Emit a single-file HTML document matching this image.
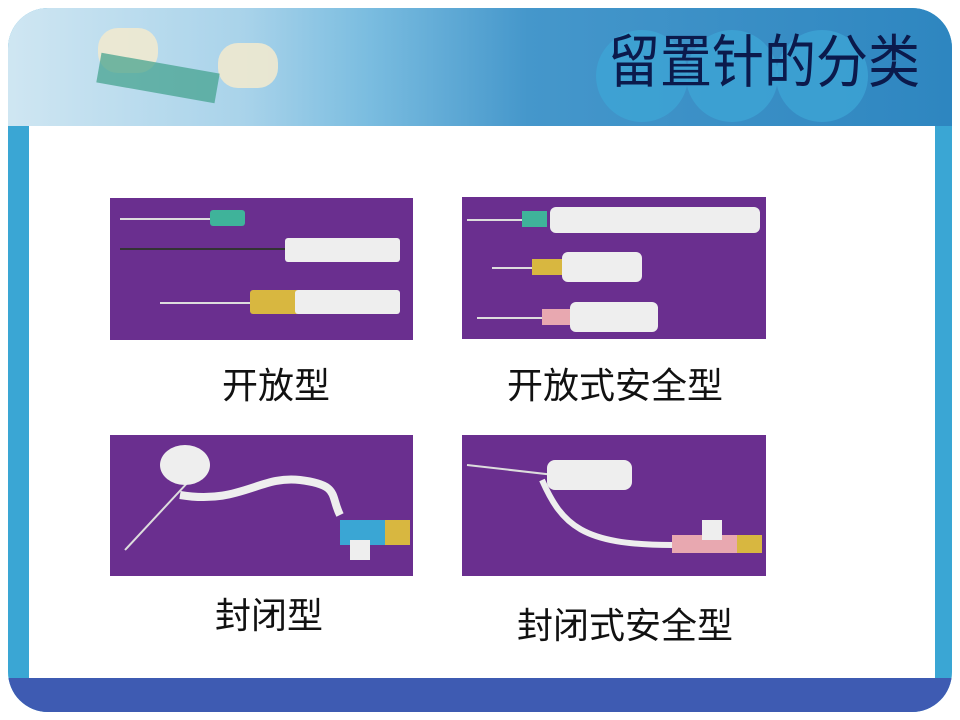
<!DOCTYPE html>
<html><head><meta charset="utf-8"><style>
body{margin:0;width:960px;height:720px;background:#fff;position:relative;overflow:hidden;font-family:"Liberation Sans","Noto Sans CJK SC",sans-serif}
.abs{position:absolute}
.frame{left:8px;top:8px;width:944px;height:704px;border-radius:40px;background:#3aa6d4;overflow:hidden}
.banner{left:0;top:0;width:944px;height:118px;background:linear-gradient(90deg,#cfe6f2 0%,#a9d3ea 25%,#7bbde0 38%,#4597cb 55%,#2e86c0 100%)}
.white{left:21px;top:118px;width:906px;height:552px;background:#fff}
.bottom{left:0;top:670px;width:944px;height:34px;background:#3e5bb2}
.circ{width:92px;height:92px;border-radius:50%;background:#3ea5d6;opacity:.75}
.title{left:608px;top:28px;font-size:52px;color:#0b1a4c;white-space:nowrap;line-height:64px;transform:scaleY(1.1);transform-origin:left top}
.p{background:#6a2f8f}
.lbl{font-size:36px;color:#111;white-space:nowrap;line-height:44px}
</style></head><body>
<div class="abs frame">
 <div class="abs banner">
  <div class="abs" style="left:90px;top:20px;width:60px;height:45px;background:#efe9cf;border-radius:20px;opacity:.9"></div>
  <div class="abs" style="left:210px;top:35px;width:60px;height:45px;background:#efe9cf;border-radius:20px;opacity:.9"></div>
  <div class="abs" style="left:90px;top:55px;width:120px;height:30px;background:#3fa08a;opacity:.7;transform:rotate(10deg)"></div>
  <div class="abs circ" style="left:588px;top:22px"></div>
  <div class="abs circ" style="left:678px;top:22px"></div>
  <div class="abs circ" style="left:768px;top:22px"></div>
 </div>
 <div class="abs white"></div>
 <div class="abs bottom"></div>
</div>
<div class="abs title">留置针的分类</div>

<div class="abs p" style="left:110px;top:198px;width:303px;height:142px">
 <div class="abs" style="left:10px;top:20px;width:100px;height:2px;background:#ddd"></div>
 <div class="abs" style="left:100px;top:12px;width:35px;height:16px;background:#3fb39a;border-radius:3px"></div>
 <div class="abs" style="left:10px;top:50px;width:170px;height:2px;background:#333"></div>
 <div class="abs" style="left:175px;top:40px;width:115px;height:24px;background:#eee;border-radius:3px"></div>
 <div class="abs" style="left:50px;top:104px;width:130px;height:2px;background:#ddd"></div>
 <div class="abs" style="left:140px;top:92px;width:50px;height:24px;background:#d8b740;border-radius:3px"></div>
 <div class="abs" style="left:185px;top:92px;width:105px;height:24px;background:#eee;border-radius:3px"></div>
</div>
<div class="abs p" style="left:462px;top:197px;width:304px;height:142px">
 <div class="abs" style="left:5px;top:22px;width:80px;height:2px;background:#ddd"></div>
 <div class="abs" style="left:60px;top:14px;width:25px;height:16px;background:#3fb39a"></div>
 <div class="abs" style="left:88px;top:10px;width:210px;height:26px;background:#eee;border-radius:6px"></div>
 <div class="abs" style="left:30px;top:70px;width:70px;height:2px;background:#ddd"></div>
 <div class="abs" style="left:70px;top:62px;width:30px;height:16px;background:#d8b740"></div>
 <div class="abs" style="left:100px;top:55px;width:80px;height:30px;background:#eee;border-radius:6px"></div>
 <div class="abs" style="left:15px;top:120px;width:90px;height:2px;background:#ddd"></div>
 <div class="abs" style="left:80px;top:112px;width:30px;height:16px;background:#e8a8b0"></div>
 <div class="abs" style="left:108px;top:105px;width:88px;height:30px;background:#eee;border-radius:6px"></div>
</div>
<div class="abs p" style="left:110px;top:435px;width:303px;height:141px">
 <svg class="abs" style="left:0;top:0" width="303" height="141"><path d="M15 115 L80 45" stroke="#ddd" stroke-width="2"/><ellipse cx="75" cy="30" rx="25" ry="20" fill="#eee"/><path d="M70 60 C130 70 150 40 190 45 S220 60 230 80" stroke="#eee" stroke-width="8" fill="none"/><rect x="230" y="85" width="60" height="25" fill="#3aa6d4"/><rect x="275" y="85" width="25" height="25" fill="#d8b740"/><rect x="240" y="105" width="20" height="20" fill="#eee"/></svg>
</div>
<div class="abs p" style="left:462px;top:435px;width:304px;height:141px">
 <svg class="abs" style="left:0;top:0" width="304" height="141"><path d="M5 30 L110 42" stroke="#ddd" stroke-width="2"/><rect x="85" y="25" width="85" height="30" rx="8" fill="#eee"/><path d="M80 45 C100 90 120 110 210 110" stroke="#eee" stroke-width="6" fill="none"/><rect x="210" y="100" width="90" height="18" fill="#e8a8b0"/><rect x="240" y="85" width="20" height="20" fill="#eee"/><rect x="275" y="100" width="25" height="18" fill="#d8b740"/></svg>
</div>

<div class="abs lbl" style="left:222px;top:364px">开放型</div>
<div class="abs lbl" style="left:507px;top:364px">开放式安全型</div>
<div class="abs lbl" style="left:215px;top:594px">封闭型</div>
<div class="abs lbl" style="left:517px;top:604px">封闭式安全型</div>
</body></html>
